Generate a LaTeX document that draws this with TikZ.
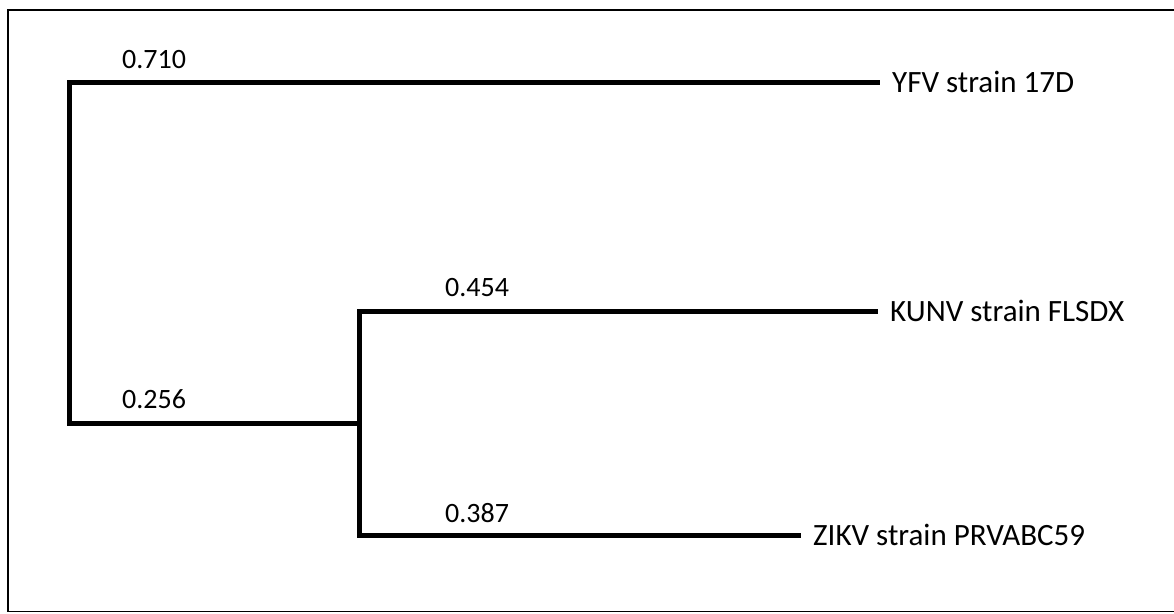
\documentclass[tikz,border=0pt]{standalone}
\usepackage{fontspec}
\setmainfont{Carlito}
\begin{document}
\begin{tikzpicture}[x=1pt,y=-1pt,
  branch/.style={line width=5pt,line cap=rect,line join=miter},
  leaflabel/.style={anchor=west,inner xsep=15pt,inner ysep=0pt,font=\fontsize{31}{31}\selectfont,text height=20pt,text depth=0pt},
  blen/.style={anchor=base west,inner sep=0pt,font=\fontsize{28}{28}\selectfont}]
\useasboundingbox (0,0) rectangle (1174,613);
\draw[line width=1.6pt] (8,10) rectangle (1180,611.5);
% internal points
\coordinate (rt) at (69,82);
\coordinate (rb) at (69,423);
\coordinate (ib) at (359,423);
\coordinate (it) at (359,311);
\coordinate (iz) at (359,535);
% leaf labels
\node[leaflabel] (yfv) at (877,82) {YFV strain 17D};
\node[leaflabel] (kunv) at (875,311) {KUNV strain FLSDX};
\node[leaflabel] (zikv) at (798,535) {ZIKV strain PRVABC59};
% branches
\draw[branch] (yfv.west) -- (rt) -- (rb) -- (ib);
\draw[branch] (kunv.west) -- (it) -- (iz) -- (zikv.west);
% branch lengths
\node[blen] (l1) at (122,68) {0.710};
\node[blen] (l2) at (122,408) {0.256};
\node[blen] (l3) at (445,296) {0.454};
\node[blen] (l4) at (445,522) {0.387};
\end{tikzpicture}
\end{document}
